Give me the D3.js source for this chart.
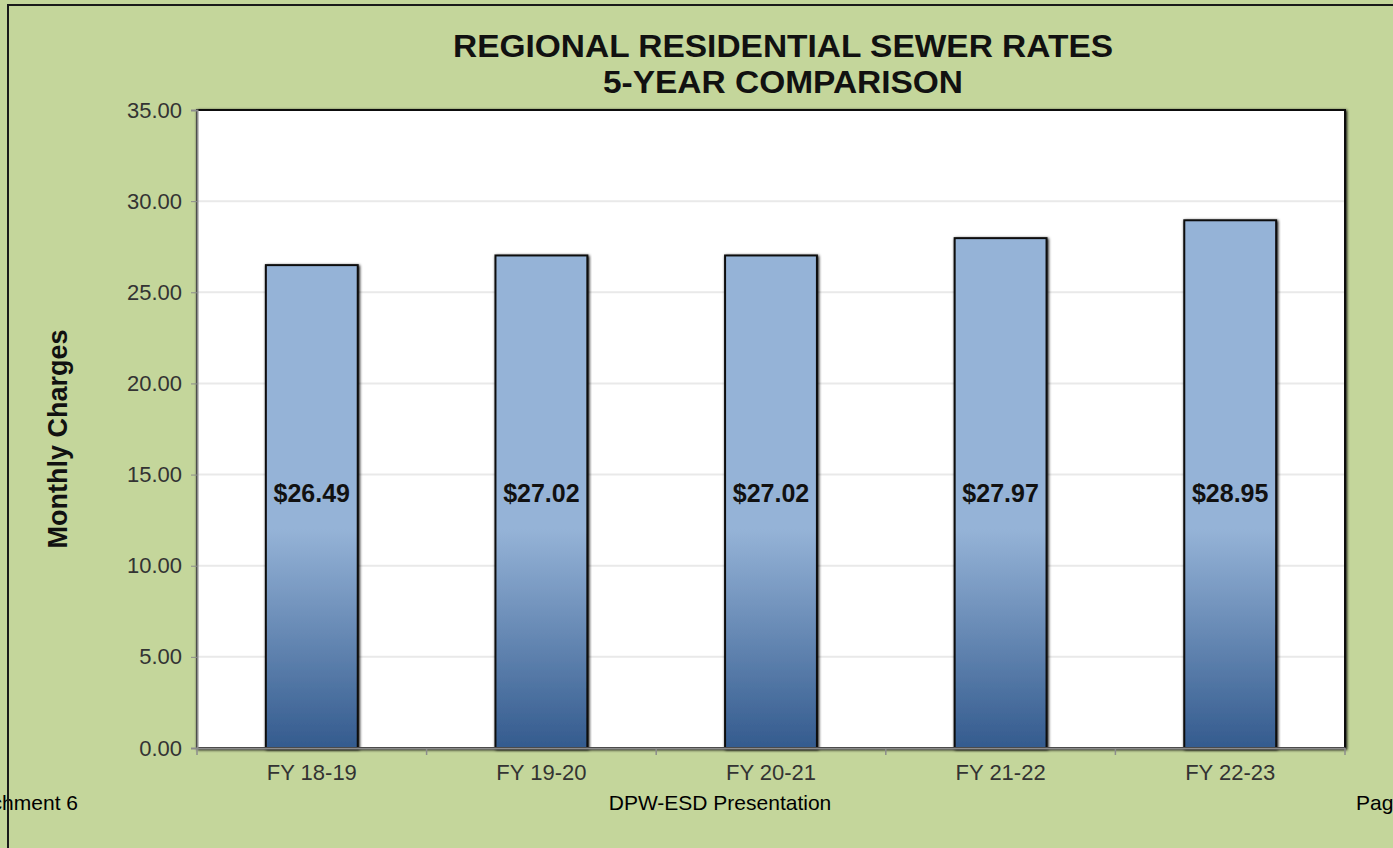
<html>
<head>
<meta charset="utf-8">
<script src="https://cdn.jsdelivr.net/npm/d3@7"></script>
<style>
  body { margin: 0; overflow: hidden; background: #c4d69b; }
  text { font-family: Arial, "Liberation Sans", sans-serif; }
</style>
</head>
<body>
<div id="chart"></div>
<script>
var categories = ["FY 18-19", "FY 19-20", "FY 20-21", "FY 21-22", "FY 22-23"];
var rates = [26.49, 27.02, 27.02, 27.97, 28.95];
var yTicks = [0, 5, 10, 15, 20, 25, 30, 35];
var titleLines = ["REGIONAL RESIDENTIAL SEWER RATES", "5-YEAR COMPARISON"];

var w = 1393, h = 848;
var plot = { left: 197, right: 1345, top: 110, bottom: 748 };
var FONT = "Arial, 'Liberation Sans', sans-serif";

var svg = d3.select("#chart").append("svg")
    .attr("width", w)
    .attr("height", h);

svg.append("rect").attr("width", w).attr("height", h).attr("fill", "#c4d69b");

var x = d3.scaleBand()
    .domain(categories)
    .range([plot.left, plot.right])
    .paddingInner(0.6)
    .paddingOuter(0.3);

var y = d3.scaleLinear()
    .domain([0, 35])
    .range([plot.bottom, plot.top]);

var defs = svg.append("defs");
var grad = defs.append("linearGradient")
    .attr("id", "barGrad")
    .attr("gradientUnits", "userSpaceOnUse")
    .attr("x1", 0).attr("x2", 0)
    .attr("y1", y(12)).attr("y2", y(0));
grad.append("stop").attr("offset", 0).attr("stop-color", "#95b3d7");
grad.append("stop").attr("offset", 1).attr("stop-color", "#345b8e");

var shadow = defs.append("filter").attr("id", "shadow")
    .attr("x", "-5%").attr("y", "-5%").attr("width", "110%").attr("height", "110%");
shadow.append("feGaussianBlur").attr("in", "SourceAlpha").attr("stdDeviation", 1.5);
shadow.append("feOffset").attr("dx", 1).attr("dy", 1).attr("result", "b");
var merge = shadow.append("feMerge");
merge.append("feMergeNode").attr("in", "b");
merge.append("feMergeNode").attr("in", "SourceGraphic");

// plot area
svg.append("rect")
    .attr("x", plot.left)
    .attr("y", plot.top)
    .attr("width", plot.right - plot.left)
    .attr("height", plot.bottom - plot.top)
    .attr("fill", "#fff")
    .attr("stroke", "#111")
    .attr("stroke-width", 2)
    .attr("filter", "url(#shadow)");

// gridlines
svg.append("g").selectAll("line")
    .data(yTicks.filter(function(d) { return d > 0 && d < 35; }))
  .enter().append("line")
    .attr("x1", plot.left).attr("x2", plot.right - 1)
    .attr("y1", function(d) { return y(d); })
    .attr("y2", function(d) { return y(d); })
    .attr("stroke", "#e9e9e9")
    .attr("stroke-width", 2);

// bars
svg.append("g").selectAll("rect")
    .data(rates)
  .enter().append("rect")
    .attr("x", function(d, i) { return x(categories[i]); })
    .attr("y", function(d) { return y(d); })
    .attr("width", x.bandwidth())
    .attr("height", function(d) { return y(0) - y(d); })
    .attr("fill", "url(#barGrad)")
    .attr("stroke", "#111")
    .attr("stroke-width", 2)
    .attr("filter", "url(#shadow)");

// value labels
svg.append("g").selectAll("text")
    .data(rates)
  .enter().append("text")
    .attr("x", function(d, i) { return x(categories[i]) + x.bandwidth() / 2; })
    .attr("y", y(14) + 9)
    .attr("text-anchor", "middle")
    .attr("font-size", 25)
    .attr("font-weight", "bold")
    .attr("fill", "#111")
    .text(function(d) { return "$" + d.toFixed(2); });

// y axis
var yAxis = svg.append("g")
    .attr("transform", "translate(" + plot.left + ",0)")
    .call(d3.axisLeft(y).tickValues(yTicks).tickFormat(d3.format(".2f")).tickSize(6).tickPadding(9));
yAxis.select(".domain").attr("stroke", "#8c8c8c").attr("stroke-width", 2);
yAxis.selectAll(".tick line").attr("stroke", "#8c8c8c");
yAxis.selectAll(".tick text")
    .attr("font-size", 22)
    .attr("fill", "#333")
    .attr("font-family", FONT);

// x axis
var xAxis = svg.append("g")
    .attr("transform", "translate(0," + plot.bottom + ")")
    .call(d3.axisBottom(x).tickSize(0).tickPadding(16));
xAxis.select(".domain").attr("stroke", "#8c8c8c").attr("stroke-width", 2);
xAxis.selectAll(".tick text")
    .attr("font-size", 22)
    .attr("fill", "#333")
    .attr("font-family", FONT);

var step = (plot.right - plot.left) / categories.length;
xAxis.selectAll(".sep")
    .data(d3.range(categories.length + 1))
  .enter().append("line")
    .attr("x1", function(i) { return plot.left + i * step; })
    .attr("x2", function(i) { return plot.left + i * step; })
    .attr("y1", 0).attr("y2", 7)
    .attr("stroke", "#8c8c8c")
    .attr("stroke-width", 1.5);

// titles
svg.append("g").selectAll("text")
    .data(titleLines)
  .enter().append("text")
    .attr("transform", function(d, i) { return "translate(783," + (57 + i * 36) + ") scale(1.08,1)"; })
    .attr("text-anchor", "middle")
    .attr("font-size", 31)
    .attr("font-weight", "bold")
    .attr("fill", "#111")
    .text(function(d) { return d; });

svg.append("text")
    .attr("transform", "translate(67,439) rotate(-90)")
    .attr("text-anchor", "middle")
    .attr("font-size", 27)
    .attr("font-weight", "bold")
    .attr("fill", "#111")
    .text("Monthly Charges");

// page footer
svg.append("text").attr("x", 78).attr("y", 810).attr("text-anchor", "end")
    .attr("font-size", 21).attr("fill", "#000").text("Attachment 6");
svg.append("text").attr("x", 720).attr("y", 810).attr("text-anchor", "middle")
    .attr("font-size", 21).attr("fill", "#000").text("DPW-ESD Presentation");
svg.append("text").attr("x", 1356).attr("y", 810)
    .attr("font-size", 21).attr("fill", "#000").text("Page");

// outer frame (only top & left visible)
svg.append("path")
    .attr("d", "M8," + h + "V5H" + w)
    .attr("fill", "none")
    .attr("stroke", "#1a1a1a")
    .attr("stroke-width", 2);
</script>
</body>
</html>
